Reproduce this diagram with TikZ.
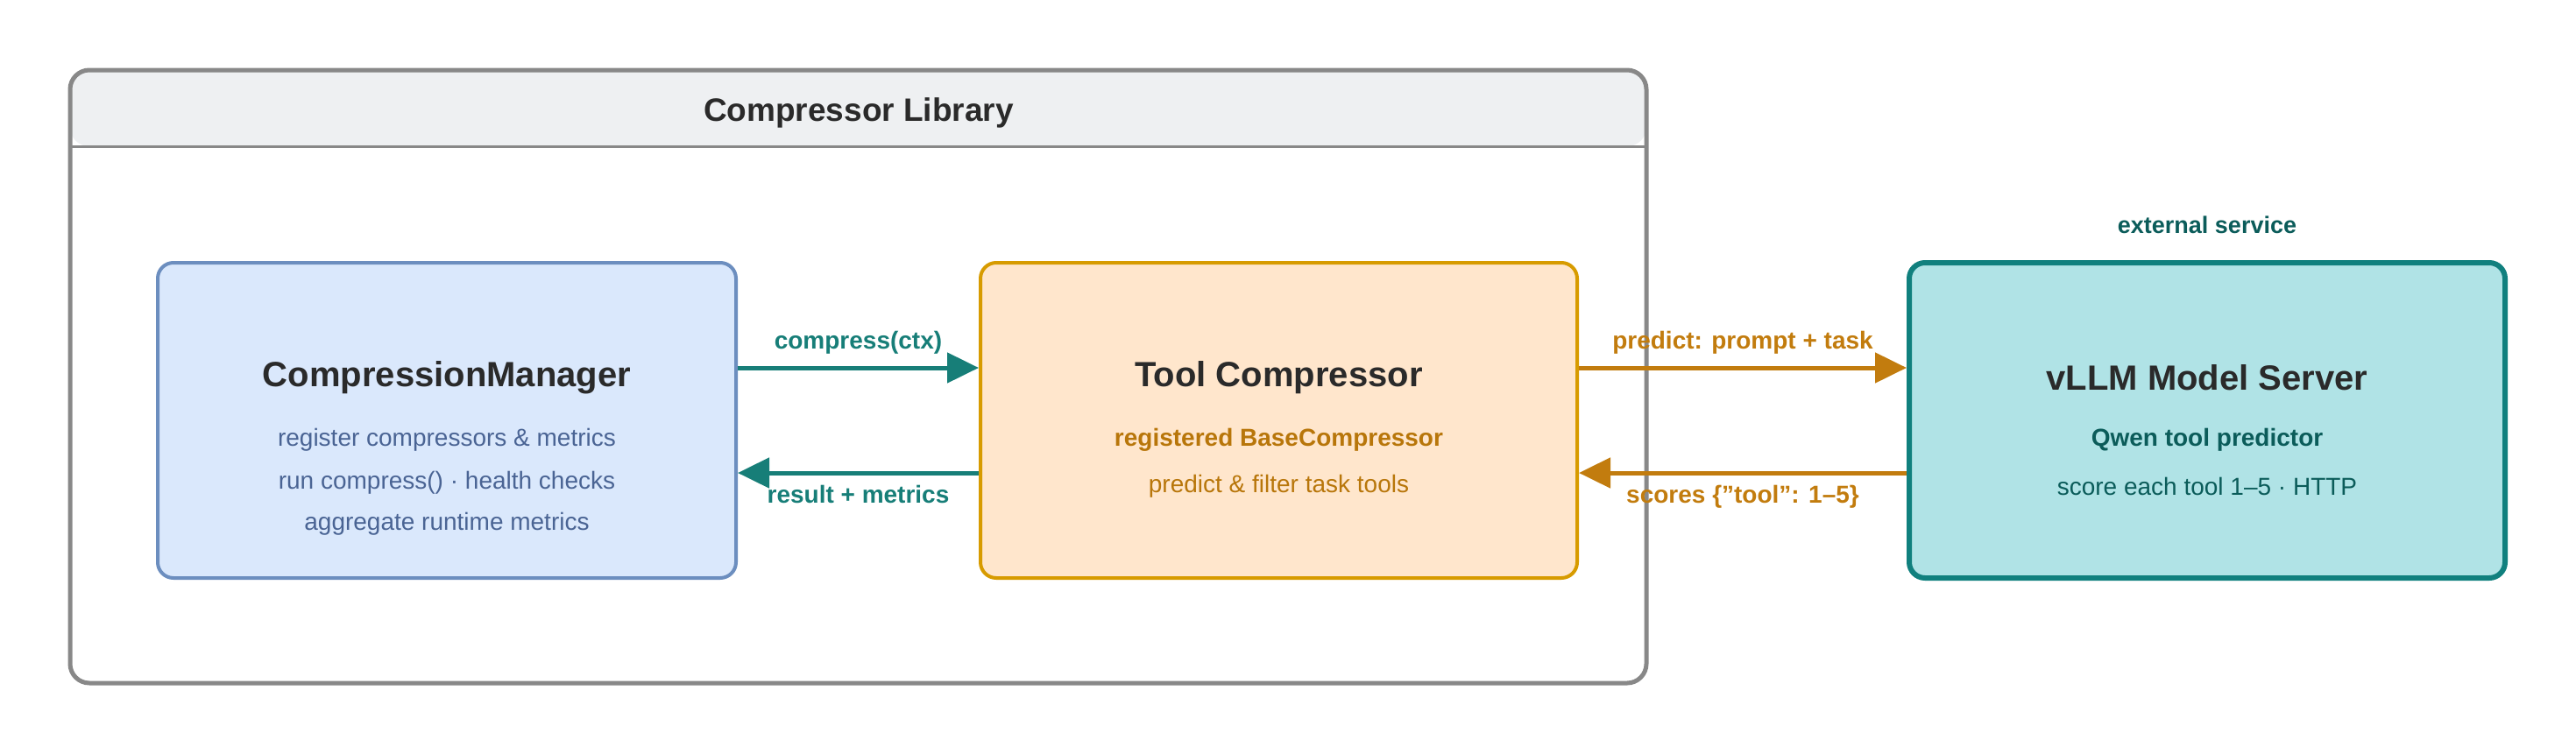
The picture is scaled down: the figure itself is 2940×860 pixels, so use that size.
\documentclass[tikz,border=0pt]{standalone}
\usepackage{fontspec}
\setmainfont{Liberation Sans}
\usetikzlibrary{arrows.meta}
\definecolor{bfill}{HTML}{DAE8FC}\definecolor{bline}{HTML}{6C8EBF}\definecolor{btext}{HTML}{4A6494}
\definecolor{ofill}{HTML}{FFE6CC}\definecolor{oline}{HTML}{D79B00}\definecolor{otext}{HTML}{B8760A}\definecolor{oarrow}{HTML}{C27C0E}
\definecolor{tfill}{HTML}{B0E3E6}\definecolor{tline}{HTML}{10807E}\definecolor{ttext}{HTML}{0B5C5A}\definecolor{tarrow}{HTML}{177E78}
\definecolor{gline}{HTML}{888888}\definecolor{gfill}{HTML}{EEF0F2}\definecolor{dark}{HTML}{2A2A2A}
\tikzset{
 box/.style={draw,line width=4pt,rounded corners=18pt,minimum width=660pt,minimum height=360pt,inner sep=0pt},
 ttl/.style={font=\fontsize{40}{48}\selectfont\bfseries,text=dark},
 sub/.style={font=\fontsize{28}{34}\selectfont},
 lbl/.style={font=\fontsize{28}{34}\selectfont\bfseries},
 arr/.style={line width=5pt,-{Triangle[length=36pt,width=34pt]}},
}
\begin{document}
\begin{tikzpicture}[x=1pt,y=-1pt]
\useasboundingbox (0,0) rectangle (2940,860);
% container
\begin{scope}
\path[fill=gfill,rounded corners=22pt] (80,80) -- (1879,80) -- (1879,167) -- (80,167) -- cycle;
\end{scope}
\fill[gfill,rounded corners=22pt] (80,167) |- (1879,80) -- (1879,167) -- cycle;
\draw[gline,line width=3pt] (80,167) -- (1879,167);
\draw[gline,line width=5pt,rounded corners=22pt] (80,80) rectangle (1879,780);
\node[font=\fontsize{37}{44}\selectfont\bfseries,text=dark] (lib) at (980,129) {Compressor Library};
% boxes
\node[box,fill=bfill,draw=bline] (cm) at (510,480) {};
\node[box,fill=ofill,draw=oline,minimum width=681pt] (tc) at (1459.5,480) {};
\node[box,fill=tfill,draw=tline,line width=6pt,minimum width=680pt] (vs) at (2519,480) {};
\node[ttl] at (510,431) {CompressionManager};
\node[sub,text=btext] at (510,502) {register compressors \& metrics};
\node[sub,text=btext] at (510,551) {run compress() · health checks};
\node[sub,text=btext] at (510,598) {aggregate runtime metrics};
\node[ttl] at (1459.5,431) {Tool Compressor};
\node[lbl,text=otext] at (1459.5,502) {registered BaseCompressor};
\node[sub,text=otext] at (1459.5,555) {predict \& filter task tools};
\node[ttl] at (2519,431) {vLLM Model Server};
\node[lbl,text=ttext] at (2519,502) {Qwen tool predictor};
\node[sub,text=ttext] at (2519,555) {score each tool 1–5 · HTTP};
\node[lbl,text=ttext,font=\fontsize{27}{32}\selectfont\bfseries] (ext) at (2519,257) {external service};
% arrows
\draw[arr,tarrow] (cm.east|-0,420) -- (tc.west|-0,420) node[midway,above=10pt,lbl,text=tarrow]{compress(ctx)};
\draw[arr,tarrow] (tc.west|-0,540) -- (cm.east|-0,540) node[midway,below=8pt,lbl,text=tarrow]{result + metrics};
\draw[arr,oarrow] (tc.east|-0,420) -- (vs.west|-0,420) node[midway,above=10pt,lbl,text=oarrow]{predict: prompt + task};
\draw[arr,oarrow] (vs.west|-0,540) -- (tc.east|-0,540) node[midway,below=8pt,lbl,text=oarrow]{scores \{"tool": 1–5\}};
\end{tikzpicture}
\end{document}
